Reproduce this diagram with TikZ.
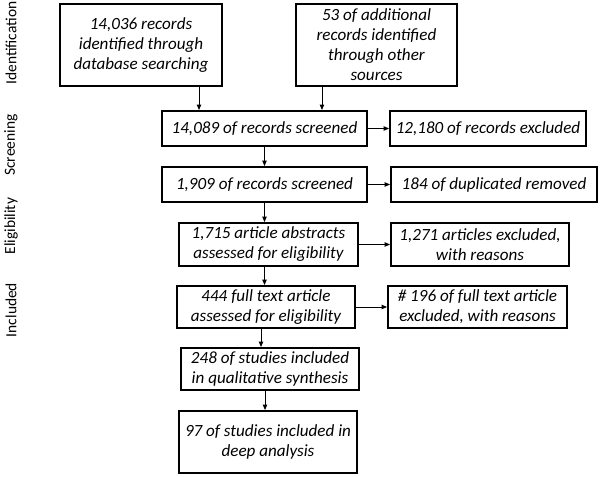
\documentclass[tikz,border=0pt]{standalone}
\usepackage{fontspec}
\setmainfont{Carlito}
\usetikzlibrary{arrows.meta}
\begin{document}
\begin{tikzpicture}[x=0.75pt,y=-0.75pt,
  box/.style={draw,line width=1.4pt,rectangle,inner sep=0pt,align=center,
    font=\fontsize{12.8}{15}\selectfont\itshape},
  arr/.style={line width=0.7pt,-{Triangle[length=4pt,width=3.2pt]}},
  phase/.style={rotate=90,font=\fontsize{11.6}{14}\selectfont,anchor=center}]
\useasboundingbox (0,0) rectangle (602,477);
\node[box,minimum width=162*0.75pt,minimum height=82*0.75pt] (b1) at (141,45)
  {14,036 records\\identified through\\database searching};
\node[box,minimum width=161*0.75pt,minimum height=82*0.75pt] (b2) at (376.5,45)
  {53 of additional\\records identified\\through other\\sources};
\node[box,minimum width=205*0.75pt,minimum height=35*0.75pt] (b3) at (264.5,128.5)
  {14,089 of records screened};
\node[box,minimum width=196*0.75pt,minimum height=35*0.75pt] (e1) at (488,128.5)
  {12,180 of records excluded};
\node[box,minimum width=205*0.75pt,minimum height=35*0.75pt] (b4) at (264.5,184.5)
  {1,909 of records screened};
\node[box,minimum width=206*0.75pt,minimum height=35*0.75pt] (e2) at (494,184.5)
  {184 of duplicated removed};
\node[box,minimum width=179*0.75pt,minimum height=43*0.75pt] (b5) at (268.5,244.5)
  {1,715 article abstracts\\assessed for eligibility};
\node[box,minimum width=178*0.75pt,minimum height=43*0.75pt] (e3) at (480,244.5)
  {1,271 articles excluded,\\with reasons};
\node[box,minimum width=178*0.75pt,minimum height=42*0.75pt] (b6) at (266,307)
  {444 full text article\\assessed for eligibility};
\node[box,minimum width=179*0.75pt,minimum height=42*0.75pt] (e4) at (477.5,307)
  {\# 196 of full text article\\excluded, with reasons};
\node[box,minimum width=178*0.75pt,minimum height=42*0.75pt] (b7) at (270,369)
  {248 of studies included\\in qualitative synthesis};
\node[box,minimum width=178*0.75pt,minimum height=62*0.75pt] (b8) at (268,442)
  {97 of studies included in\\deep analysis};
\node[phase] (p1) at (11,43) {Identification};
\node[phase] (p2) at (11,145) {Screening};
\node[phase] (p3) at (11,226) {Eligibility};
\node[phase] (p4) at (11,310) {Included};
\draw[arr] ([xshift=43.5pt]b1.south) -- ([xshift=43.5pt]b1.south |- b3.north);
\draw[arr] ([xshift=-40.9pt]b2.south) -- ([xshift=-40.9pt]b2.south |- b3.north);
\draw[arr] (b3.east) -- (e1.west);
\draw[arr] (b3.south) -- (b3.south |- b4.north);
\draw[arr] (b4.east) -- (e2.west);
\draw[arr] (b4.south) -- (b4.south |- b5.north);
\draw[arr] (b5.east) -- (e3.west);
\draw[arr] ([xshift=-3pt]b5.south) -- ([xshift=-3pt]b5.south |- b6.north);
\draw[arr] (b6.east) -- (e4.west);
\draw[arr] ([xshift=-3.75pt]b6.south) -- ([xshift=-3.75pt]b6.south |- b7.north);
\draw[arr] ([xshift=-3.75pt]b7.south) -- ([xshift=-3.75pt]b7.south |- b8.north);
\end{tikzpicture}
\end{document}
